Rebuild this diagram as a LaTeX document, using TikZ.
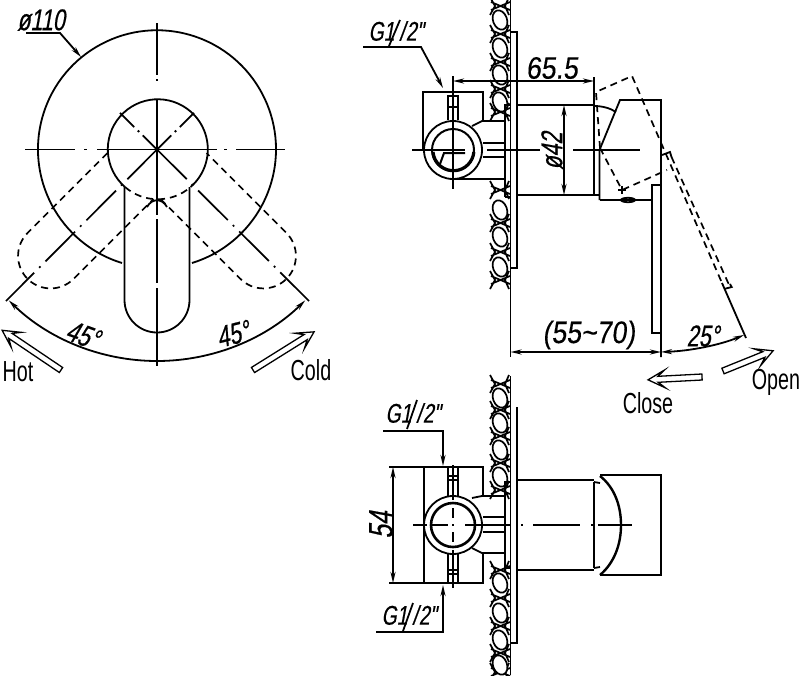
\documentclass[tikz,border=0pt]{standalone}
\usepackage{fontspec}
\usetikzlibrary{arrows.meta}
\newfontfamily\dimfont[FakeStretch=0.72,FakeSlant=0.18,FakeBold=0.5]{Liberation Sans}
\newfontfamily\widefont[FakeStretch=0.86,FakeSlant=0.12,FakeBold=0.3]{Liberation Sans}
\newfontfamily\labfont[FakeStretch=0.68]{Liberation Sans}
\tikzset{
 ln/.style={line width=1.8pt,black},
 thin ln/.style={line width=1.3pt,black},
 dsh/.style={line width=1.7pt,black,dash pattern=on 7pt off 5pt},
 ctr/.style={line width=1.7pt,black,dash pattern=on 42pt off 7pt on 2pt off 7pt},
 wl/.style={line width=1.7pt,black},
 tip/.style={-{Stealth[length=11pt,width=5pt]}},
 tips/.style={{Stealth[length=11pt,width=5pt]}-{Stealth[length=11pt,width=5pt]}},
 dimtext/.style={font=\dimfont\fontsize{30}{30}\selectfont,inner sep=0pt},
 widetext/.style={font=\widefont\fontsize{31}{31}\selectfont,inner sep=0pt},
 leadtext/.style={font=\dimfont\fontsize{27}{27}\selectfont,inner sep=0pt},
 labtext/.style={font=\labfont\fontsize{29}{29}\selectfont,inner sep=0pt},
}
\newcommand\blockarrow[4]{\begin{scope}[shift={(#1,#2)},rotate=#3]
 \draw[thin ln,line join=miter] (0,-3)--(#4-10,-3)--(#4-17,-9)--(#4,0)--(#4-17,9)--(#4-10,3)--(0,3)--cycle;
\end{scope}}
\newcommand\stonerock[1]{\draw[wl,fill=white,rotate around={20:(500,#1)}] (500,#1) ellipse [x radius=7,y radius=10];}
\newcommand\stonecross[1]{\draw[wl] (490,#1-9) -- (495,#1) -- (490,#1+9) (509,#1-9) -- (505,#1) -- (509,#1+9) (491,#1-4) -- (510,#1+4) (491,#1+4) -- (510,#1-4);}
\newcommand\gtext{G1\kern5pt/\kern1pt2"}
\begin{document}
\begin{tikzpicture}[x=1pt,y=-1pt]
\useasboundingbox (0,0) rectangle (800,675);
% ---------- front view
\coordinate (c) at (157,149.5);
\draw[ln] (122,263) arc[start angle=107.1,end angle=432.9,radius=119];
\draw[ln] (125,187) arc[start angle=131,end angle=409,radius=50];
\draw[dsh] (125,187) arc[start angle=131,end angle=49,radius=50];
\draw[ln] (124.5,187) -- (124.5,300) arc[start angle=180,end angle=0,radius=32.5] -- (189.5,187);
\foreach \a in {45,-45}{
 \begin{scope}[rotate around={\a:(c)}]
 \draw[dsh] (124.5,187) -- (124.5,300) arc[start angle=180,end angle=0,radius=32.5] -- (189.5,187);
 \end{scope}}
\draw[ln] (147,207) .. controls (152,198) and (162,198) .. (167,207);
% centre lines
\draw[ln] (157,23) -- (157,75) (157,79) -- (157,81) (157,100) -- (157,215) (157,219) -- (157,283) (157,288) -- (157,366);
\draw[ln] (25,149.5) -- (75,149.5) (84,149.5) -- (87,149.5) (97,149.5) -- (217,149.5) (224,149.5) -- (227,149.5) (236,149.5) -- (285,149.5);
\draw[ctr] (c) -- (6,301);
\draw[ctr] (c) -- (309,301);
\draw[ln,dash pattern=on 20pt off 5pt on 2pt off 5pt] (c) -- (117,110);
\draw[ln,dash pattern=on 20pt off 5pt on 2pt off 5pt] (c) -- (197,110);
% angle arcs
\draw[ln,tip] (157,361) arc[start angle=90,end angle=134.5,radius=211.5];
\draw[ln,tip] (157,361) arc[start angle=90,end angle=45.5,radius=211.5];
% dia label
\node[dimtext] (d110) at (41,20) {ø110};
\coordinate (d110a) at (26,33);
\coordinate (d110b) at (60,33);
\coordinate (d110c) at (81,57);
\draw[ln,tip] (d110a) -- (d110b) -- (d110c);
\node[dimtext,rotate=-20] (a45l) at (83,335) {45°};
\node[dimtext,rotate=14] (a45r) at (233,334) {45°};
\blockarrow{61}{370}{146}{71}
\blockarrow{253}{370}{32}{72}
\node[labtext] (hot) at (18,372) {Hot};
\node[labtext] (cold) at (311,370) {Cold};
% ---------- side view, wall
\foreach \y in {6,34,62,89,112,190,223,252,280}{\stonecross{\y}}
\foreach \y in {20,48,75,102,210,237,267}{\stonerock{\y}}
\draw[ln] (510.5,0) -- (510.5,357);
\draw[ln] (510.5,32) -- (516.7,32) -- (516.7,268) -- (510.5,268);
% valve body
\draw[ln] (483,121) -- (483,92) -- (423,92) -- (423,150);
\draw[ln] (505,197) -- (505,105) -- (510.5,105);
\draw[ln] (505,197) -- (510.5,197);
\draw[ln] (472,126) -- (482,121) -- (505,121);
\draw[ln] (453,179) -- (505,179);
\draw[ln] (483,143) -- (505,143) (483,157) -- (505,157);
\draw[ln,fill=white] (453,150) circle[radius=29];
\draw[line width=2pt] (453,150) circle[radius=21];
\draw[line width=3.2pt] (433,152) arc[start angle=175,end angle=5,radius=20.5];
\draw[ln] (448,120) -- (448,96) -- (458,96) -- (458,120) (448,107) -- (458,107);
\draw[line width=2pt] (465,153) -- (444,153) -- (440,164);
\draw[ln] (453,76) -- (453,189);
\draw[ln] (412,150) -- (465,150) (487,150) -- (540,150) (573,150) -- (640,150);
% cylinder
\draw[ln] (516.7,105) -- (594,105) (516.7,195) -- (594,195);
\draw[ln] (594,77) -- (594,195) -- (600,195);
% handle
\draw[ln] (599.5,200) -- (599.5,150) -- (620,100) -- (661,100) -- (661,357);
\draw[ln] (599.5,200) -- (652,200);
\draw[ln] (661,185) -- (652,185) -- (652,333) -- (661,333);
\draw[ln] (628,200) ellipse [x radius=7,y radius=2.2];
\draw[line width=1.8pt] (594,106) .. controls (602,106) and (610,108) .. (616,112);
% dashed rotated handle
\draw[dsh] (600,148) -- (596,92) -- (632,76) -- (722,283);
\draw[dsh] (600,148) -- (622,190) -- (667,170);
\draw[ln] (618,190) -- (626,190) (622,186) -- (622,194);
\draw[ln] (662,155) -- (670,152) -- (671.5,157);
\draw[dsh] (671.5,157) -- (730,287);
\draw[ln] (730,284) -- (731.7,287) -- (724,289);
\coordinate (lev) at (722,283);
\coordinate (levend) at (746,338);
\draw[ln] (lev) -- (levend);
% dims
\coordinate (dl) at (453,81);
\coordinate (dr) at (594,81);
\draw[ln,tips] (dl) -- (dr);
\node[widetext] (d655) at (552,68) {65.5};
\draw[ln,tips] (564,105) -- (564,195);
\node[dimtext,rotate=90] (d42) at (552,151) {ø42};
\draw[ln,tips] (510.5,352) -- (661,352);
\node[widetext] (d5570) at (589,335) {(55\string~70)};
\draw[ln,tips] (661,352) .. controls (690,351) and (720,345) .. (744,335);
\node[dimtext] (d25) at (703,336) {25°};
\node[leadtext] (g1) at (396,31) {\gtext};
\coordinate (g1a) at (363,47);
\coordinate (g1b) at (421,47);
\coordinate (g1c) at (443,88);
\draw[ln,tip] (g1a) -- (g1b) -- (g1c);
\draw[ln] (389,46) -- (400,20);
\blockarrow{702}{377}{183}{54}
\blockarrow{723}{371}{22}{54}
\node[labtext] (close) at (648,403) {Close};
\node[labtext] (open) at (776,382) {Open};
% ---------- lower view
\foreach \y in {384,410,436,463,490,570,598,626,653,672}{\stonecross{\y}}
\foreach \y in {398,423,450,477,583,613,640,665}{\stonerock{\y}}
\draw[ln] (510.5,376) -- (510.5,675);
\draw[ln] (516.7,407) -- (516.7,643) -- (510.5,643);
\draw[ln] (389,467) -- (483,467) -- (483,497);
\draw[ln] (389,583) -- (483,583) -- (483,553);
\draw[ln] (424,467) -- (424,583);
\draw[ln] (505,568) -- (505,482) -- (510.5,482);
\draw[ln] (505,568) -- (510.5,568);
\draw[ln] (472,498) -- (482,496) -- (505,496);
\draw[ln] (472,548) -- (482,553) -- (505,553);
\draw[ln] (483,517) -- (505,517) (483,532) -- (505,532);
\draw[ln,fill=white] (453,525) circle[radius=29];
\draw[line width=2.6pt] (453,525) circle[radius=22];
\draw[ln] (448,497) -- (448,467) -- (458,467) -- (458,497) (448,476) -- (458,476) (448,480) -- (458,480);
\draw[ln] (448,553) -- (448,583) -- (458,583) -- (458,553) (448,570) -- (458,570) (448,574) -- (458,574);
\draw[ln] (453,465) -- (453,500) (453,508) -- (453,518) (453,532) -- (453,542) (453,550) -- (453,588);
\draw[ln] (413,525) -- (427,525) (430,525) -- (448,525) (452,525) -- (454,525) (465,525) -- (511,525) (521,525) -- (523,525) (533,525) -- (580,525) (591,525) -- (593,525) (598,525) -- (632,525);
\draw[ln] (516.7,480) -- (594,480) (516.7,570) -- (594,570);
\draw[ln] (594,482) -- (594,568);
\draw[ln] (594,482) -- (600,483) (594,568) -- (600,567);
\draw[ln] (600,475) -- (661,475) -- (661,575) -- (600,575);
\draw[line width=2.4pt] (600,476) .. controls (614,487) and (621,505) .. (621,525) .. controls (621,545) and (614,563) .. (600,575);
\draw[ln,tips] (393,467) -- (393,583);
\node[dimtext,font=\dimfont\fontsize{34}{34}\selectfont,rotate=90] (d54) at (381,525) {54};
\node[leadtext] (g2) at (413,413) {\gtext};
\coordinate (g2a) at (383,431);
\coordinate (g2b) at (443,431);
\coordinate (g2c) at (443,466);
\draw[ln,tip] (g2a) -- (g2b) -- (g2c);
\draw[ln] (407,429) -- (417,400);
\node[leadtext] (g3) at (409,615) {\gtext};
\coordinate (g3a) at (376,632);
\coordinate (g3b) at (443,632);
\coordinate (g3c) at (443,585);
\draw[ln,tip] (g3a) -- (g3b) -- (g3c);
\draw[ln] (403,631) -- (413,603);
\end{tikzpicture}
\end{document}
